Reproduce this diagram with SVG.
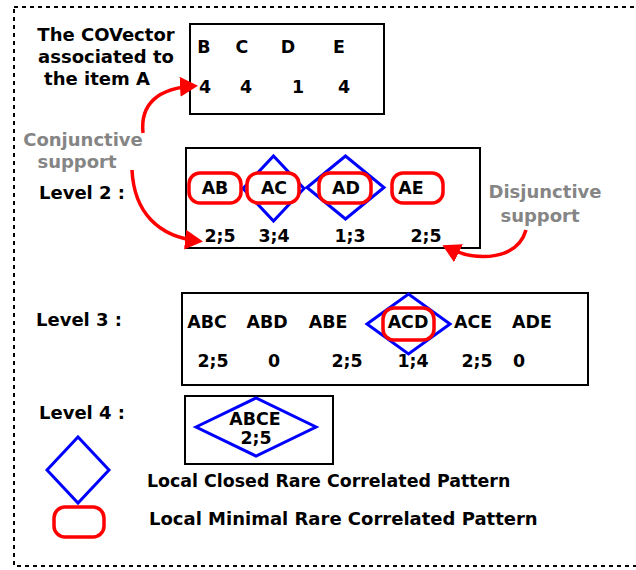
<svg xmlns="http://www.w3.org/2000/svg" width="636" height="570" viewBox="0 0 636 570">
<style>
.t{font-family:"DejaVu Sans","Liberation Sans",sans-serif;font-weight:bold;font-size:17.4px;fill:#000}
.c{text-anchor:middle}
.h{font-size:18px}
.g{fill:#858585;font-size:18px}
.box{fill:#fff;stroke:#000;stroke-width:2}
.dia{fill:#fff;stroke:#0000ff;stroke-width:3}
.rr{fill:#fff;stroke:#ff0000;stroke-width:3.5}
.arr{fill:none;stroke:#ff0000;stroke-width:3.5;marker-end:url(#ah)}
</style>
<defs>
<marker id="ah" markerUnits="userSpaceOnUse" viewBox="0 0 18 20" refX="14" refY="10" markerWidth="18" markerHeight="20" orient="auto">
<path d="M0,0 L18,10 L0,20 z" fill="#ff0000"/>
</marker>
</defs>
<rect width="636" height="570" fill="#fff"/>
<rect x="14" y="7" width="640" height="559" fill="none" stroke="#000" stroke-width="2" stroke-dasharray="4,4"/>

<g id="title">
<text class="t c h" x="106" y="41">The COVector</text>
<text class="t c h" x="106" y="63">associated to</text>
<text class="t c h" x="97" y="85">the item A</text>
</g>

<g id="covector">
<rect class="box" x="190" y="24" width="194" height="90"/>
<text class="t c" x="204" y="53">B</text>
<text class="t c" x="242" y="53">C</text>
<text class="t c" x="288" y="53">D</text>
<text class="t c" x="339" y="53">E</text>
<text class="t c" x="205" y="93">4</text>
<text class="t c" x="246" y="93">4</text>
<text class="t c" x="298" y="93">1</text>
<text class="t c" x="344" y="93">4</text>
</g>

<g id="conj-label">
<text class="t g c" x="83" y="146">Conjunctive</text>
<text class="t g c" x="77" y="168">support</text>
</g>
<g id="disj-label">
<text class="t g c" x="545" y="198">Disjunctive</text>
<text class="t g c" x="540" y="222">support</text>
</g>

<g id="level2-label"><text class="t h" x="39" y="199">Level 2 :</text></g>
<g id="level2">
<rect class="box" x="186" y="148" width="294" height="100"/>
<polygon class="dia" points="243,188.5 273.5,156 304,188.5 273.5,221"/>
<polygon class="dia" points="307,187.5 345.5,156 384,187.5 345.5,219"/>
<rect class="rr" x="189" y="173" width="52" height="30" rx="11"/>
<rect class="rr" x="247" y="173" width="52" height="30" rx="11"/>
<rect class="rr" x="319" y="173" width="52" height="30" rx="11"/>
<rect class="rr" x="392" y="173" width="51" height="30" rx="11"/>
<text class="t c" x="215" y="194">AB</text>
<text class="t c" x="274" y="194">AC</text>
<text class="t c" x="346" y="194">AD</text>
<text class="t c" x="411" y="194">AE</text>
<text class="t c" x="220" y="242">2;5</text>
<text class="t c" x="274" y="242">3;4</text>
<text class="t c" x="350" y="242">1;3</text>
<text class="t c" x="426" y="242">2;5</text>
</g>

<g id="level3-label"><text class="t h" x="36" y="326">Level 3 :</text></g>
<g id="level3">
<rect class="box" x="182" y="293" width="406" height="92"/>
<polygon class="dia" points="367,324 408.5,294 450,324 408.5,354"/>
<rect class="rr" x="383" y="308" width="51" height="32" rx="11"/>
<text class="t c" x="207" y="328">ABC</text>
<text class="t c" x="267" y="328">ABD</text>
<text class="t c" x="328" y="328">ABE</text>
<text class="t c" x="408" y="328">ACD</text>
<text class="t c" x="473" y="328">ACE</text>
<text class="t c" x="532" y="328">ADE</text>
<text class="t c" x="213" y="367">2;5</text>
<text class="t c" x="274" y="367">0</text>
<text class="t c" x="347" y="367">2;5</text>
<text class="t c" x="413" y="367">1;4</text>
<text class="t c" x="477" y="367">2;5</text>
<text class="t c" x="519" y="367">0</text>
</g>

<g id="level4-label"><text class="t h" x="39" y="419">Level 4 :</text></g>
<g id="level4">
<rect class="box" x="185" y="396" width="148" height="68"/>
<polygon class="dia" points="196,427 256,398 316,427 256,456"/>
<text class="t c" x="255" y="425">ABCE</text>
<text class="t c" x="256" y="444">2;5</text>
</g>

<g id="legend-closed">
<polygon class="dia" points="47,470 78,437 109,470 78,503" style="fill:none"/>
<text class="t" x="147" y="487">Local Closed Rare Correlated Pattern</text>
</g>
<g id="legend-minimal">
<rect class="rr" x="54" y="507" width="50" height="30" rx="11"/>
<text class="t" x="149" y="525" style="font-size:18px">Local Minimal Rare Correlated Pattern</text>
</g>

<g id="connectors">
<path class="arr" d="M143,133 C140,104 158,88 194,86"/>
<path class="arr" d="M132,170 C134,212 158,237 199,241"/>
<path class="arr" d="M526,230 C518,258 480,264 446,247"/>
</g>
</svg>
